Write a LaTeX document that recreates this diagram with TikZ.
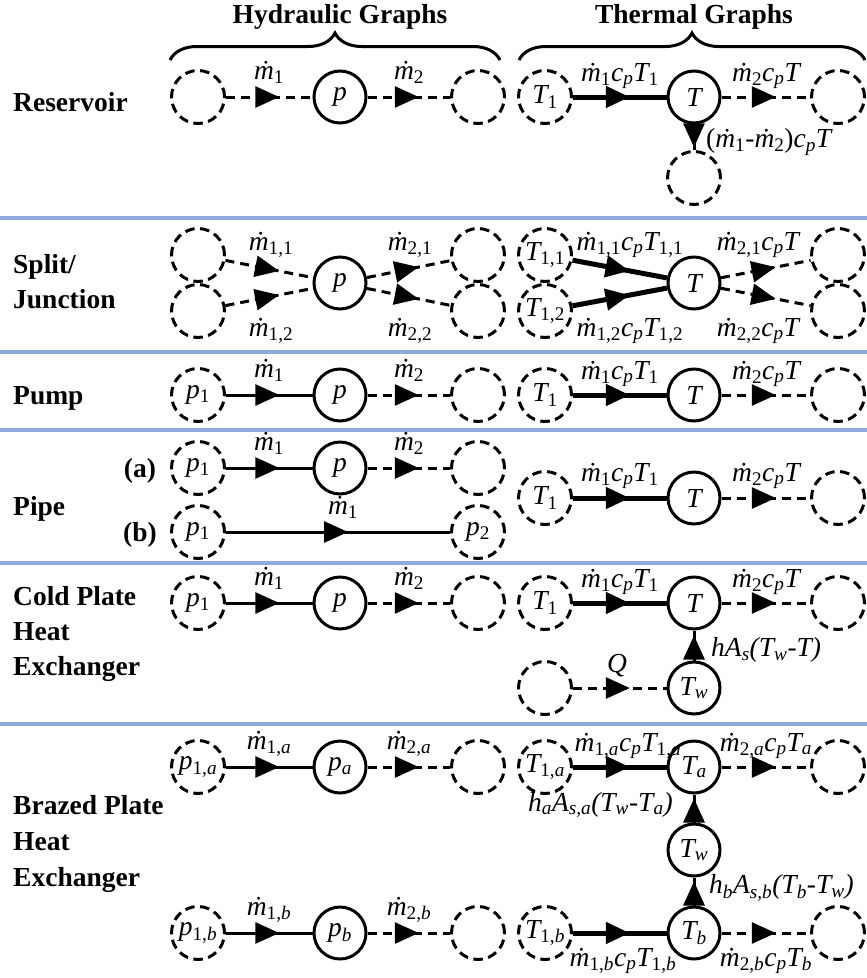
\documentclass[tikz,border=0pt]{standalone}
\usepackage{fontspec}
\setmainfont{Liberation Serif}
\usetikzlibrary{arrows.meta,decorations.markings,decorations.pathreplacing}
\definecolor{sepblue}{RGB}{143,170,220}
\newcommand{\subu}[1]{\textsubscript{\upshape #1}}
\newcommand{\subi}[1]{\textsubscript{\itshape #1}}
\newcommand{\mdot}{\.m}
\newcommand{\fsz}{\fontsize{27.5}{33}\selectfont}
\tikzset{
  dn/.style={circle, draw, line width=3pt, dash pattern=on 9.5pt off 5.5pt, minimum size=53pt, inner sep=0pt, font=\fsz\itshape},
  sn/.style={circle, draw, line width=3pt, minimum size=52pt, inner sep=0pt, font=\fsz\itshape},
  midarrow/.style={postaction={decorate}, decoration={markings, mark=at position 0.5 with {\pgftransformxshift{10pt}\arrow{Triangle[length=24pt,width=21pt]}}}},
  hs/.style={line width=3pt, midarrow},
  hd/.style={line width=3pt, dash pattern=on 9pt off 6pt, midarrow},
  ts/.style={line width=5pt, midarrow},
  vs/.style={line width=3pt, midarrow},
  lab/.style={font=\fsz\itshape, anchor=base, inner sep=0pt},
  rowlab/.style={font=\fsz\bfseries, anchor=base west, inner sep=0pt},
  head/.style={font=\fsz\bfseries, anchor=base, inner sep=0pt},
  sep/.style={draw=sepblue, line width=3.5pt},
  brc/.style={decorate, decoration={brace, amplitude=27pt}, line width=3pt},
}
\begin{document}
\begin{tikzpicture}[x=1pt, y=-1pt]
\useasboundingbox (0,0) rectangle (867,978);
% headers
\node[head] (hh) at (340,23) {Hydraulic Graphs};
\node[head] (ht) at (694,23) {Thermal Graphs};
\draw[brc] (170,60) -- (500,60);
\draw[brc] (519,60) -- (865,60);
% separators
\foreach \yy in {218,352,430,563,724} \draw[sep] (0,\yy) -- (867,\yy);
% row labels
\node[rowlab] (L1) at (13,111) {Reservoir};
\node[rowlab] (L2) at (13,273) {Split/};
\node[rowlab] (L3) at (13,308) {Junction};
\node[rowlab] (L4) at (13,404) {Pump};
\node[rowlab] (L5) at (13,515) {Pipe};
\node[head] (La) at (140,477) {(a)};
\node[head] (Lb) at (140,541) {(b)};
\node[rowlab] (L6) at (13,605) {Cold Plate};
\node[rowlab] (L7) at (13,640) {Heat};
\node[rowlab] (L8) at (13,675) {Exchanger};
\node[rowlab] (L9) at (13,814) {Brazed Plate};
\node[rowlab] (L10) at (13,850) {Heat};
\node[rowlab] (L11) at (13,886) {Exchanger};

% ---------- Reservoir
\node[dn] (r1) at (198,97) {};
\node[sn] (rp) at (340,97) {p};
\node[dn] (r3) at (478,97) {};
\node[dn] (rT1) at (545,97) {T\subu{1}};
\node[sn] (rT) at (694,97) {T};
\node[dn] (rT3) at (838,97) {};
\node[dn] (rTd) at (694,178) {};
\draw[hd] (r1) -- (rp);
\draw[hd] (rp) -- (r3);
\draw[ts] (rT1) -- (rT);
\draw[hd] (rT) -- (rT3);
\draw[vs] (rT) -- (rTd);
\node[lab] (rl1) at (269,79) {\mdot\subu{1}};
\node[lab] (rl2) at (409,79) {\mdot\subu{2}};
\node[lab] (rl3) at (620,81) {\mdot\subu{1}c\subi{p}T\subu{1}};
\node[lab] (rl4) at (766,81) {\mdot\subu{2}c\subi{p}T};
\node[lab, anchor=west] (rl5) at (706,142) {{\upshape(}\mdot\subu{1}-\mdot\subu{2}{\upshape)}c\subi{p}T};

% ---------- Split / Junction
\node[dn] (s1u) at (198,255) {};
\node[dn] (s1l) at (198,311) {};
\node[sn] (sp) at (340,283) {p};
\node[dn] (s3u) at (478,255) {};
\node[dn] (s3l) at (478,311) {};
\node[dn] (sT1u) at (545,255) {T\subu{1,1}};
\node[dn] (sT1l) at (545,311) {T\subu{1,2}};
\node[sn] (sT) at (694,283) {T};
\node[dn] (sT3u) at (838,255) {};
\node[dn] (sT3l) at (838,311) {};
\draw[hd] (s1u) -- (sp);
\draw[hd] (s1l) -- (sp);
\draw[hd] (sp) -- (s3u);
\draw[hd] (sp) -- (s3l);
\draw[ts] (sT1u) -- (sT);
\draw[ts] (sT1l) -- (sT);
\draw[hd] (sT) -- (sT3u);
\draw[hd] (sT) -- (sT3l);
\node[lab] (sl1) at (271,250) {\mdot\subu{1,1}};
\node[lab] (sl2) at (271,336) {\mdot\subu{1,2}};
\node[lab] (sl3) at (410,250) {\mdot\subu{2,1}};
\node[lab] (sl4) at (410,336) {\mdot\subu{2,2}};
\node[lab] (sl5) at (630,250) {\mdot\subu{1,1}c\subi{p}T\subu{1,1}};
\node[lab] (sl6) at (630,336) {\mdot\subu{1,2}c\subi{p}T\subu{1,2}};
\node[lab] (sl7) at (758,250) {\mdot\subu{2,1}c\subi{p}T};
\node[lab] (sl8) at (758,336) {\mdot\subu{2,2}c\subi{p}T};

% ---------- Pump
\node[dn] (u1) at (198,395) {p\subu{1}};
\node[sn] (up) at (340,395) {p};
\node[dn] (u3) at (478,395) {};
\node[dn] (uT1) at (545,395) {T\subu{1}};
\node[sn] (uT) at (694,395) {T};
\node[dn] (uT3) at (838,395) {};
\draw[hs] (u1) -- (up);
\draw[hd] (up) -- (u3);
\draw[ts] (uT1) -- (uT);
\draw[hd] (uT) -- (uT3);
\node[lab] (ul1) at (269,377) {\mdot\subu{1}};
\node[lab] (ul2) at (409,377) {\mdot\subu{2}};
\node[lab] (ul3) at (620,379) {\mdot\subu{1}c\subi{p}T\subu{1}};
\node[lab] (ul4) at (766,379) {\mdot\subu{2}c\subi{p}T};

% ---------- Pipe
\node[dn] (a1) at (198,468) {p\subu{1}};
\node[sn] (ap) at (340,468) {p};
\node[dn] (a3) at (478,468) {};
\node[dn] (b1) at (198,532) {p\subu{1}};
\node[dn] (b2) at (478,532) {p\subu{2}};
\node[dn] (iT1) at (545,498) {T\subu{1}};
\node[sn] (iT) at (694,498) {T};
\node[dn] (iT3) at (838,498) {};
\draw[hs] (a1) -- (ap);
\draw[hd] (ap) -- (a3);
\draw[hs] (b1) -- (b2);
\draw[ts] (iT1) -- (iT);
\draw[hd] (iT) -- (iT3);
\node[lab] (al1) at (269,450) {\mdot\subu{1}};
\node[lab] (al2) at (409,450) {\mdot\subu{2}};
\node[lab] (bl1) at (343,514) {\mdot\subu{1}};
\node[lab] (il1) at (620,481) {\mdot\subu{1}c\subi{p}T\subu{1}};
\node[lab] (il2) at (766,481) {\mdot\subu{2}c\subi{p}T};

% ---------- Cold plate
\node[dn] (c1) at (198,603) {p\subu{1}};
\node[sn] (cp) at (340,603) {p};
\node[dn] (c3) at (478,603) {};
\node[dn] (cT1) at (545,603) {T\subu{1}};
\node[sn] (cT) at (694,603) {T};
\node[dn] (cT3) at (838,603) {};
\node[dn] (cQ) at (545,688) {};
\node[sn] (cTw) at (694,688) {T\subi{w}};
\draw[hs] (c1) -- (cp);
\draw[hd] (cp) -- (c3);
\draw[ts] (cT1) -- (cT);
\draw[hd] (cT) -- (cT3);
\draw[hd] (cQ) -- (cTw);
\draw[vs] (cTw) -- (cT);
\node[lab] (cl1) at (269,585) {\mdot\subu{1}};
\node[lab] (cl2) at (409,585) {\mdot\subu{2}};
\node[lab] (cl3) at (620,587) {\mdot\subu{1}c\subi{p}T\subu{1}};
\node[lab] (cl4) at (766,587) {\mdot\subu{2}c\subi{p}T};
\node[lab, anchor=west] (cl5) at (711,650) {hA\subi{s}(T\subi{w}-T)};
\node[lab] (cl6) at (617,672) {Q};

% ---------- Brazed plate
\node[dn] (ba1) at (198,767) {p\textsubscript{\upshape 1,\itshape a}};
\node[sn] (bap) at (340,767) {p\subi{a}};
\node[dn] (ba3) at (478,767) {};
\node[dn] (baT1) at (545,767) {T\textsubscript{\upshape 1,\itshape a}};
\node[sn] (baT) at (694,767) {T\subi{a}};
\node[dn] (baT3) at (838,767) {};
\node[sn] (bw) at (694,850) {T\subi{w}};
\node[dn] (bb1) at (198,933) {p\textsubscript{\upshape 1,\itshape b}};
\node[sn] (bbp) at (340,933) {p\subi{b}};
\node[dn] (bb3) at (478,933) {};
\node[dn] (bbT1) at (545,933) {T\textsubscript{\upshape 1,\itshape b}};
\node[sn] (bbT) at (694,933) {T\subi{b}};
\node[dn] (bbT3) at (838,933) {};
\draw[hs] (ba1) -- (bap);
\draw[hd] (bap) -- (ba3);
\draw[ts] (baT1) -- (baT);
\draw[hd] (baT) -- (baT3);
\draw[vs] (bw) -- (baT);
\draw[vs] (bbT) -- (bw);
\draw[hs] (bb1) -- (bbp);
\draw[hd] (bbp) -- (bb3);
\draw[ts] (bbT1) -- (bbT);
\draw[hd] (bbT) -- (bbT3);
\node[lab] (bl2) at (269,749) {\mdot\textsubscript{\upshape 1,\itshape a}};
\node[lab] (bl3) at (409,749) {\mdot\textsubscript{\upshape 2,\itshape a}};
\node[lab] (bl4) at (628,751) {\mdot\textsubscript{\upshape 1,\itshape a}c\subi{p}T\textsubscript{\upshape 1,\itshape a}};
\node[lab] (bl5) at (766,751) {\mdot\textsubscript{\upshape 2,\itshape a}c\subi{p}T\subi{a}};
\node[lab, anchor=east] (bl6) at (673,805) {h\subi{a}A\subi{s,a}(T\subi{w}-T\subi{a})};
\node[lab, anchor=west] (bl7) at (709,888) {h\subi{b}A\subi{s,b}(T\subi{b}-T\subi{w})};
\node[lab] (bl8) at (269,915) {\mdot\textsubscript{\upshape 1,\itshape b}};
\node[lab] (bl9) at (409,915) {\mdot\textsubscript{\upshape 2,\itshape b}};
\node[lab] (bl10) at (623,966) {\mdot\textsubscript{\upshape 1,\itshape b}c\subi{p}T\textsubscript{\upshape 1,\itshape b}};
\node[lab] (bl11) at (766,966) {\mdot\textsubscript{\upshape 2,\itshape b}c\subi{p}T\subi{b}};
\end{tikzpicture}
\end{document}
